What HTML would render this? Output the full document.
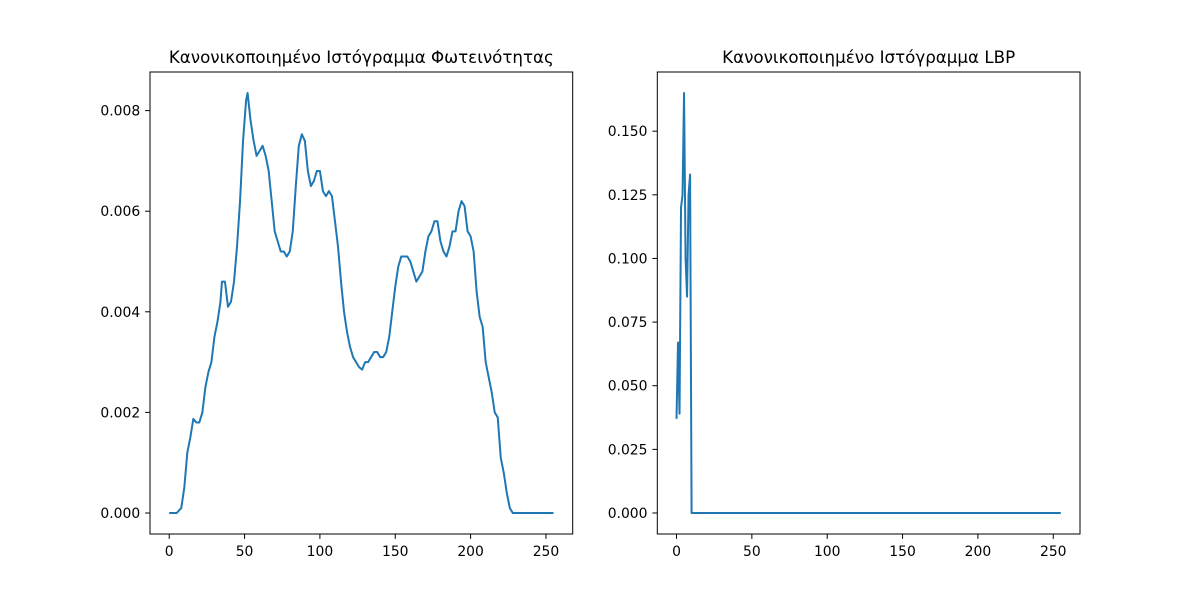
<!DOCTYPE html>
<html><head><meta charset="utf-8"><style>
body{margin:0;background:#fff}
svg text{font-family:"DejaVu Sans","Liberation Sans",sans-serif;fill:#000}
</style></head><body>
<svg id="chart" width="1200" height="600" xmlns="http://www.w3.org/2000/svg"></svg>
<script>
const lumX=[0,5,8,10,12,14,16,18,20,22,24,26,28,30,32,34,35,37,39,41,43,45,47,49,51,52,54,56,58,60,62,64,66,68,70,72,74,76,78,80,82,84,86,88,90,92,94,96,98,100,102,104,106,108,110,112,114,116,118,120,122,124,126,128,130,132,134,136,138,140,142,144,146,148,150,152,154,156,158,160,162,164,166,168,170,172,174,176,178,180,182,184,186,188,190,192,194,196,198,200,202,204,206,208,210,212,214,216,218,220,222,224,226,228,255];
const lumY=[0,0,0.0001,0.0005,0.0012,0.0015,0.00187,0.0018,0.0018,0.002,0.0025,0.0028,0.003,0.0035,0.0038,0.0042,0.0046,0.0046,0.0041,0.0042,0.0046,0.0053,0.0062,0.0074,0.0082,0.00835,0.0078,0.0074,0.0071,0.0072,0.0073,0.0071,0.0068,0.0062,0.0056,0.0054,0.0052,0.0052,0.0051,0.0052,0.0056,0.0065,0.0073,0.00753,0.0074,0.0068,0.0065,0.0066,0.0068,0.0068,0.0064,0.0063,0.0064,0.0063,0.0058,0.0053,0.0046,0.004,0.0036,0.0033,0.0031,0.003,0.0029,0.00285,0.003,0.003,0.0031,0.0032,0.0032,0.0031,0.0031,0.0032,0.0035,0.004,0.0045,0.0049,0.0051,0.0051,0.0051,0.005,0.0048,0.0046,0.0047,0.0048,0.0052,0.0055,0.0056,0.0058,0.0058,0.0054,0.0052,0.0051,0.0053,0.0056,0.0056,0.006,0.0062,0.0061,0.0056,0.0055,0.0052,0.0044,0.0039,0.0037,0.003,0.0027,0.0024,0.002,0.0019,0.0011,0.0008,0.0004,0.0001,0,0];
const lbpX=[0,1,2,3,4,5,6,7,8,9,10,255];
const lbpY=[0.037,0.067,0.039,0.12,0.125,0.165,0.1,0.085,0.125,0.133,0,0];
const xTicks=[0,50,100,150,200,250];
const lumTicks=[0,0.002,0.004,0.006,0.008];
const lbpTicks=[0,0.025,0.05,0.075,0.1,0.125,0.15];
const svg=document.getElementById('chart');
const NS='http://www.w3.org/2000/svg';
function mk(t,a,p){const e=document.createElementNS(NS,t);for(const k in a)e.setAttribute(k,a[k]);(p||svg).appendChild(e);return e;}
function panel(name,L,title,xs,ys,yTicks,ymax,dec){
  const T=72,B=534,R=L+422.7;
  const x0=-12.75,x1=267.75,pad=ymax*0.05,y0=-pad,y1=ymax+pad;
  const sx=v=>L+(v-x0)/(x1-x0)*(R-L);
  const sy=v=>B-(v-y0)/(y1-y0)*(B-T);
  const g=mk('g',{});
  
  
  const d=xs.map((x,i)=>(i?'L':'M')+sx(x).toFixed(2)+','+sy(ys[i]).toFixed(2)).join('');
  const p=mk('path',{d:d,fill:'none',stroke:'#1f77b4','stroke-width':2,'stroke-linejoin':'round'},g);
  
  
  const f=mk('rect',{x:L,y:T,width:R-L,height:B-T,fill:'none',stroke:'#000','stroke-width':1},g);
  
  
  xTicks.forEach(t=>{const X=sx(t);mk('line',{x1:X,x2:X,y1:B,y2:B+4.9,stroke:'#000','stroke-width':1},g);
    const tx=mk('text',{x:X,y:B+22,'font-size':13.9,'text-anchor':'middle'},g);tx.textContent=t;
    
    });
  yTicks.forEach(t=>{const Y=sy(t);mk('line',{x1:L-4.9,x2:L,y1:Y,y2:Y,stroke:'#000','stroke-width':1},g);
    const tx=mk('text',{x:L-9.8,y:Y+5,'font-size':13.9,'text-anchor':'end'},g);tx.textContent=t.toFixed(dec);
    
    });
  const tt=mk('text',{x:(L+R)/2,y:T-9,'font-size':16.7,'text-anchor':'middle'},g);tt.textContent=title;
  
  
}
panel('luminance-histogram',150,'Κανονικοποιημένο Ιστόγραμμα Φωτεινότητας',lumX,lumY,lumTicks,0.00835,3);
panel('lbp-histogram',657.3,'Κανονικοποιημένο Ιστόγραμμα LBP',lbpX,lbpY,lbpTicks,0.165,3);
</script>
</body></html>
